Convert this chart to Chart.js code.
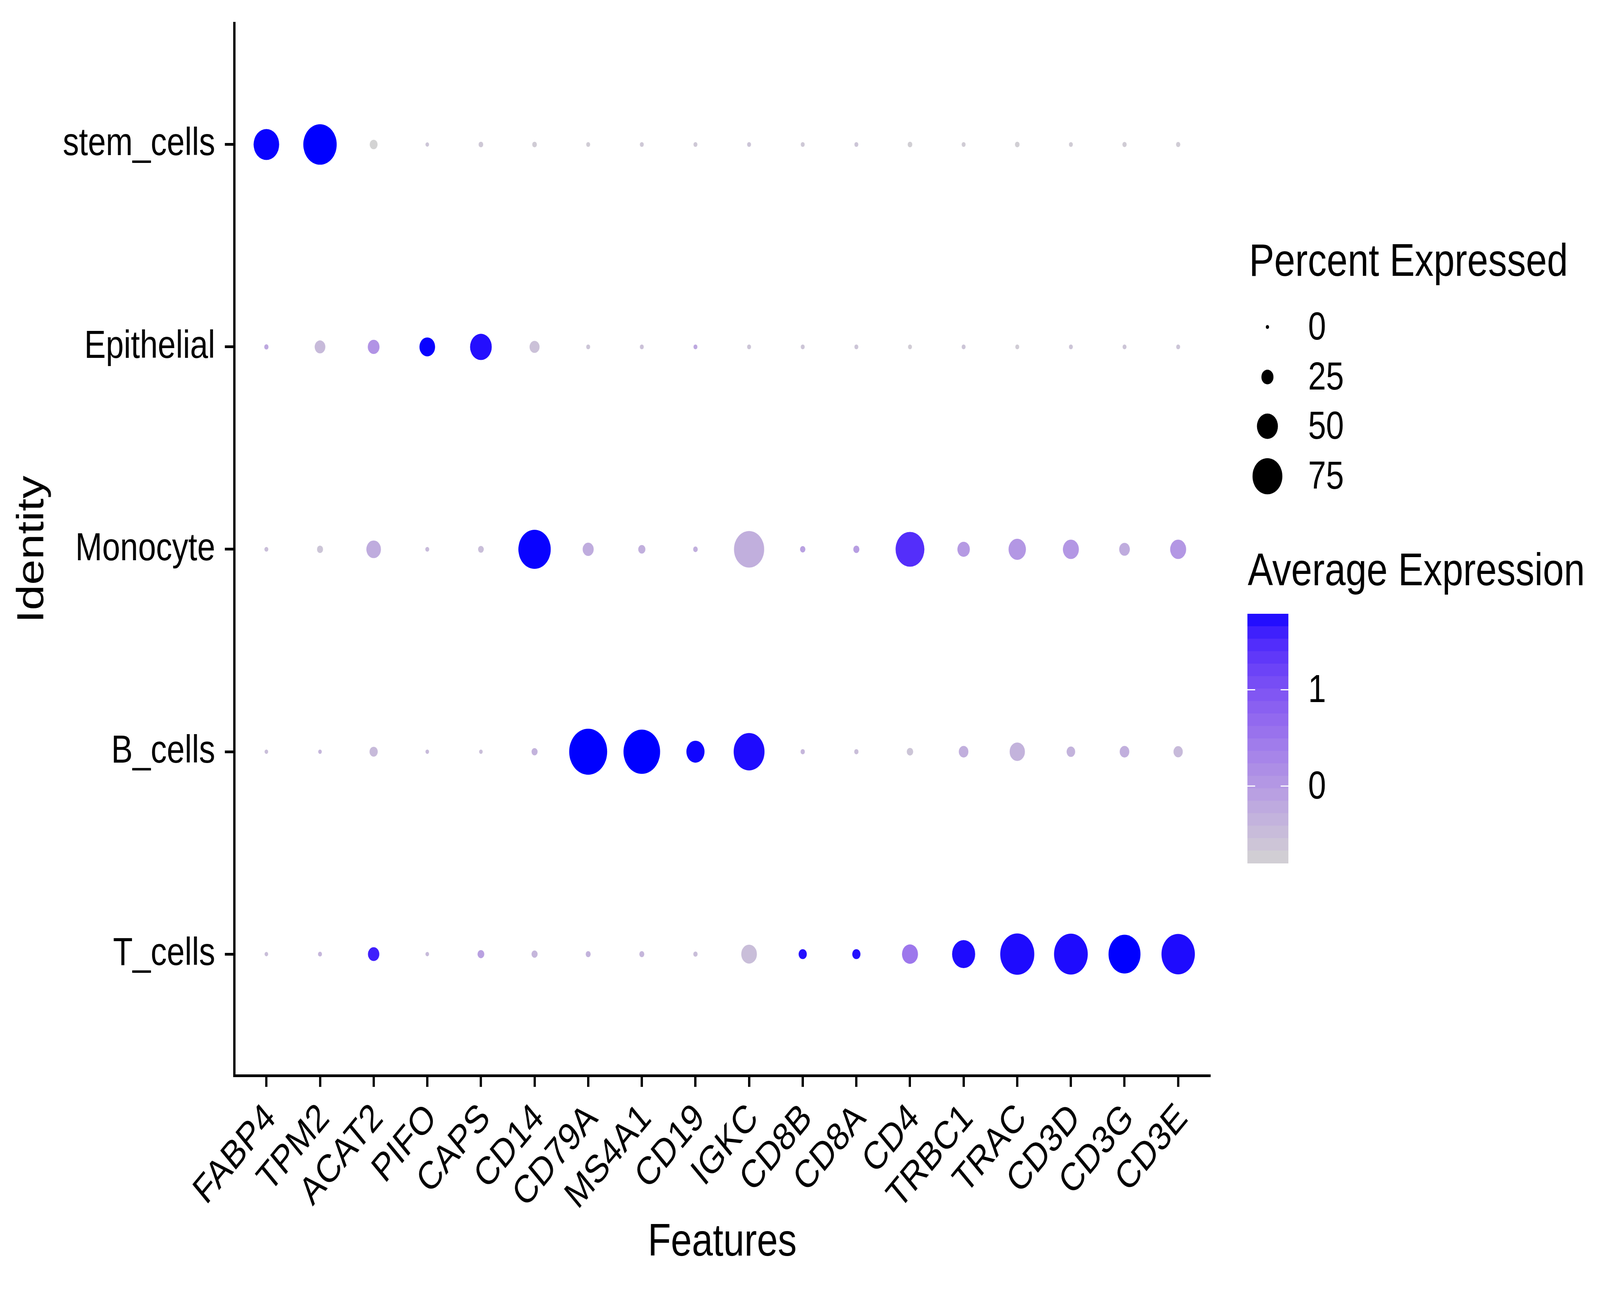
<!DOCTYPE html>
<html>
<head>
<meta charset="utf-8">
<script src="https://cdn.jsdelivr.net/npm/chart.js@4.4.1/dist/chart.umd.min.js"></script>
<style>
  html, body { margin: 0; padding: 0; background: #fff; overflow: hidden; }
  #wrap { width: 4960px; height: 3307px; position: absolute; left: 0; top: 0; transform-origin: 0 0; }
</style>
</head>
<body>
<div id="wrap"><canvas id="dotplot"></canvas></div>
<script>
const features = ['FABP4', 'TPM2', 'ACAT2', 'PIFO', 'CAPS', 'CD14', 'CD79A', 'MS4A1', 'CD19', 'IGKC',
  'CD8B', 'CD8A', 'CD4', 'TRBC1', 'TRAC', 'CD3D', 'CD3G', 'CD3E'];
const identities = ['stem_cells', 'Epithelial', 'Monocyte', 'B_cells', 'T_cells'];

// percent of cells expressing, one array per identity (same order as features)
const pctStem = [63, 85, 13, 1, 4, 4, 2, 2, 2, 2, 2, 2, 4, 2, 4, 2, 3, 3];
const pctEpithelial = [3, 21, 24, 35, 52, 19, 2, 2, 2, 2, 2, 2, 2, 2, 2, 2, 2, 2];
const pctMonocyte = [2, 8, 32, 2, 7, 82, 22, 11, 4, 76, 6, 8, 72, 26, 40, 36, 21, 36];
const pctB = [1, 1, 14, 1, 1, 8, 98, 94, 42, 78, 3, 3, 9, 18, 34, 15, 18, 17];
const pctT = [1, 2, 23, 1, 10, 8, 5, 5, 3, 35, 14, 14, 36, 56, 87, 86, 81, 85];

// scaled average expression
const avgStem = [1.78, 1.79, -0.8, -0.6, -0.65, -0.7, -0.7, -0.65, -0.65, -0.6, -0.65, -0.6, -0.75, -0.7, -0.75, -0.7, -0.7, -0.7];
const avgEpithelial = [-0.2, -0.45, 0.1, 1.78, 1.72, -0.55, -0.6, -0.55, -0.2, -0.6, -0.6, -0.6, -0.7, -0.6, -0.7, -0.6, -0.6, -0.6];
const avgMonocyte = [-0.5, -0.6, -0.25, -0.45, -0.5, 1.78, -0.25, -0.3, -0.3, -0.3, -0.1, -0.05, 1.45, 0.0, 0.05, 0.05, -0.25, 0.05];
const avgB = [-0.5, -0.4, -0.45, -0.45, -0.5, -0.35, 1.79, 1.79, 1.77, 1.74, -0.4, -0.5, -0.6, -0.3, -0.35, -0.35, -0.3, -0.45];
const avgT = [-0.5, -0.4, 1.6, -0.45, -0.1, -0.4, -0.35, -0.4, -0.5, -0.5, 1.72, 1.72, 0.5, 1.74, 1.74, 1.74, 1.79, 1.74];

const sizeBreaks = [0, 25, 50, 75];
const colourBreaks = [0, 1];

const pctRows = [pctStem, pctEpithelial, pctMonocyte, pctB, pctT];
const avgRows = [avgStem, avgEpithelial, avgMonocyte, avgB, avgT];

const FONT = '"Liberation Sans", Arial, Helvetica, sans-serif';
const LOW = [211, 211, 211];
const HIGH = [0, 0, 255];

// the window may be smaller than the 4960x3307 design, stretch the drawing to fill it
const wrap = document.getElementById('wrap');
wrap.style.transform = `scale(${window.innerWidth / 4960}, ${window.innerHeight / 3307})`;

// --- colour ramp lightgrey -> blue, interpolated in CIELAB like ggplot ---
const toLin = (c) => { c /= 255; return c <= 0.04045 ? c / 12.92 : Math.pow((c + 0.055) / 1.055, 2.4); };
const fromLin = (c) => { const v = c <= 0.0031308 ? 12.92 * c : 1.055 * Math.pow(c, 1 / 2.4) - 0.055; return Math.round(Math.min(1, Math.max(0, v)) * 255); };
const WX = 0.95047, WY = 1, WZ = 1.08883;
function rgbToLab([r, g, b]) {
  r = toLin(r); g = toLin(g); b = toLin(b);
  const X = (0.4124 * r + 0.3576 * g + 0.1805 * b) / WX;
  const Y = (0.2126 * r + 0.7152 * g + 0.0722 * b) / WY;
  const Z = (0.0193 * r + 0.1192 * g + 0.9505 * b) / WZ;
  const f = (t) => (t > 0.008856 ? Math.cbrt(t) : 7.787 * t + 16 / 116);
  return [116 * f(Y) - 16, 500 * (f(X) - f(Y)), 200 * (f(Y) - f(Z))];
}
function labToRgb([L, a, b]) {
  const fy = (L + 16) / 116, fx = fy + a / 500, fz = fy - b / 200;
  const inv = (t) => (t ** 3 > 0.008856 ? t ** 3 : (t - 16 / 116) / 7.787);
  const X = inv(fx) * WX, Y = inv(fy) * WY, Z = inv(fz) * WZ;
  const r = 3.2406 * X - 1.5372 * Y - 0.4986 * Z;
  const g = -0.9689 * X + 1.8758 * Y + 0.0415 * Z;
  const bb = 0.0557 * X - 0.204 * Y + 1.057 * Z;
  return `rgb(${fromLin(r)},${fromLin(g)},${fromLin(bb)})`;
}
const labLow = rgbToLab(LOW), labHigh = rgbToLab(HIGH);
const allAvg = avgRows.flat();
const avgMin = Math.min(...allAvg), avgMax = Math.max(...allAvg);
function avgColour(v) {
  const t = (v - avgMin) / (avgMax - avgMin);
  return labToRgb(labLow.map((c, i) => c + (labHigh[i] - c) * t));
}
// dot diameter grows linearly with percent expressed
const dotRadius = (pct) => (10 + 1.1 * pct) / 2;

const points = [];
identities.forEach((id, row) => {
  features.forEach((f, col) => {
    points.push({ x: col, y: identities.length - 1 - row, r: dotRadius(pctRows[row][col]), avg: avgRows[row][col] });
  });
});

const legendPlugin = {
  id: 'dotLegend',
  afterDraw(chart) {
    const ctx = chart.ctx;
    ctx.save();
    ctx.fillStyle = '#000';
    ctx.textAlign = 'left';
    ctx.textBaseline = 'alphabetic';
    ctx.font = `117px ${FONT}`;
    ctx.fillText('Percent Expressed', 3872, 706);
    const rowsY = [837, 965, 1091, 1219];
    sizeBreaks.forEach((b, i) => {
      ctx.beginPath();
      ctx.arc(3929, rowsY[i], dotRadius(b), 0, Math.PI * 2);
      ctx.fillStyle = '#000';
      ctx.fill();
      ctx.font = `100px ${FONT}`;
      ctx.textBaseline = 'middle';
      ctx.fillText(String(b), 4055, rowsY[i] + 4);
      ctx.textBaseline = 'alphabetic';
    });

    ctx.font = `117px ${FONT}`;
    ctx.fillText('Average Expression', 3868, 1498);
    const barL = 3867, barR = 3994, barT = 1571, barB = 2209, nbin = 20;
    const binH = (barB - barT) / nbin;
    for (let i = 0; i < nbin; i++) {
      const v = avgMax - (i + 0.5) / nbin * (avgMax - avgMin);
      ctx.fillStyle = avgColour(v);
      ctx.fillRect(barL, barT + i * binH, barR - barL, binH + 1);
    }
    const vy = (v) => barT + (avgMax - v) / (avgMax - avgMin) * (barB - barT);
    colourBreaks.forEach((b) => {
      const y = vy(b);
      ctx.strokeStyle = '#fff';
      ctx.lineWidth = 3;
      ctx.beginPath();
      ctx.moveTo(barL, y); ctx.lineTo(barL + 24, y);
      ctx.moveTo(barR - 24, y); ctx.lineTo(barR, y);
      ctx.stroke();
      ctx.fillStyle = '#000';
      ctx.font = `100px ${FONT}`;
      ctx.textBaseline = 'middle';
      ctx.fillText(String(b), 4055, y + 4);
    });
    ctx.restore();
  },
};

new Chart(document.getElementById('dotplot'), {
  type: 'bubble',
  data: {
    datasets: [{
      data: points,
      backgroundColor: points.map((p) => avgColour(p.avg)),
      borderWidth: 0,
      hoverRadius: 0,
    }],
  },
  options: {
    responsive: true,
    maintainAspectRatio: false,
    devicePixelRatio: 1,
    animation: false,
    events: [],
    layout: { padding: { top: 59, right: 1208, bottom: 0, left: 0 } },
    plugins: { legend: { display: false }, tooltip: { enabled: false } },
    scales: {
      x: {
        type: 'linear',
        min: -0.6,
        max: features.length - 1 + 0.6,
        afterBuildTicks: (s) => { s.ticks = features.map((_, i) => ({ value: i })); },
        afterFit: (s) => { s.height = 554; s.paddingLeft = 0; s.paddingRight = 0; },
        ticks: {
          callback: (v) => features[v],
          autoSkip: false,
          maxRotation: 45,
          minRotation: 45,
          padding: 22,
          labelOffset: 14,
          color: '#000',
          font: { family: FONT, size: 100 },
        },
        grid: { drawOnChartArea: false, drawTicks: true, tickLength: 29, tickWidth: 7, tickColor: '#000' },
        border: { display: true, color: '#000', width: 7 },
        title: { display: true, text: 'Features', color: '#000', font: { family: FONT, size: 117 }, padding: { bottom: 55 } },
      },
      y: {
        type: 'linear',
        min: -0.6,
        max: identities.length - 1 + 0.6,
        afterBuildTicks: (s) => { s.ticks = identities.map((_, i) => ({ value: i })); },
        afterFit: (s) => { s.width = 726; s.paddingTop = 0; s.paddingBottom = 0; },
        ticks: {
          callback: (v) => identities[identities.length - 1 - v],
          autoSkip: false,
          padding: 30,
          color: '#000',
          font: { family: FONT, size: 100 },
        },
        grid: { drawOnChartArea: false, drawTicks: true, tickLength: 29, tickWidth: 7, tickColor: '#000' },
        border: { display: true, color: '#000', width: 7 },
        title: { display: true, text: 'Identity', color: '#000', font: { family: FONT, size: 117 }, padding: { top: 32 } },
      },
    },
  },
  plugins: [legendPlugin],
});
</script>
</body>
</html>
